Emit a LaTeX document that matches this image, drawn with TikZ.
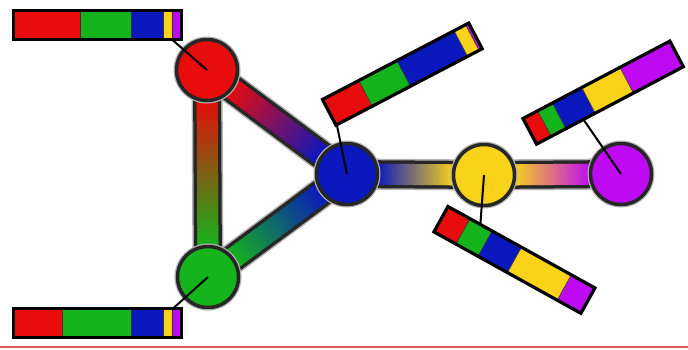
\documentclass[tikz,border=0pt]{standalone}
\usepackage{tikz}
\usetikzlibrary{calc}
\definecolor{nodered}{HTML}{E80C0C}
\definecolor{nodegreen}{HTML}{14B41C}
\definecolor{nodeblue}{HTML}{0A18BE}
\definecolor{nodeyellow}{HTML}{F8D31A}
\definecolor{nodepurple}{HTML}{BE0AF2}
\definecolor{floorred}{HTML}{E05A5A}

% gradient edge from node #1 (colour #3) to node #2 (colour #4)
\newcommand{\gradbar}[4]{%
  \draw[barframe] (#1) -- (#2);
  \path ($(#1)!30pt!(#2)$) coordinate (ga) ($(#2)!30pt!(#1)$) coordinate (gb);
  \foreach \i in {0,...,39}{
    \pgfmathsetmacro{\mix}{100-(\i+0.5)*2.5}
    \pgfmathsetmacro{\tend}{min(1,(\i+1.6)/40)}
    \draw[barfill, #3!\mix!#4] ($(ga)!\i/40!(gb)$) -- ($(ga)!\tend!(gb)$);
  }}

% legend bar: #1 origin, #2 angle, #3 length, #4 segments, #5 name, #6 leader point
\newcommand{\legendbar}[6]{%
  \begin{scope}[shift={#1}, rotate=#2]
    \foreach \c/\a/\b in {#4} \fill[\c] (\a,0) rectangle (\b,29);
    \foreach \c/\a/\b in {#4} \draw[segline] (\b,0) -- (\b,29);
    \draw[legframe] (0,0) rectangle (#3,29);
    \coordinate (#5) at #6;
  \end{scope}}

\begin{document}
\begin{tikzpicture}[
    x=1pt, y=-1pt,
    vertex/.style={circle, minimum size=61pt, inner sep=0pt, draw=black!85,
                   line width=3.5pt, preaction={draw=black!30, line width=6pt}},
    barframe/.style={line width=28pt, black!85, preaction={draw=black!30, line width=31pt}},
    barfill/.style={line width=21pt},
    legframe/.style={draw=black, line width=3.2pt},
    segline/.style={draw=black!80, line width=0.6pt},
    leader/.style={draw=black, line width=2pt},
    floorline/.style={draw=floorred, line width=1.6pt}
]
\useasboundingbox (0,0) rectangle (688,349);

% --- vertices (placed first, drawn over the edges below) ---
\path (207,70)  coordinate (pr) (208,277) coordinate (pg) (347,174) coordinate (pb)
      (484,175) coordinate (py) (621,174) coordinate (pp);

% --- edges ---
\gradbar{pr}{pg}{nodered}{nodegreen}
\gradbar{pr}{pb}{nodered}{nodeblue}
\gradbar{pg}{pb}{nodegreen}{nodeblue}
\gradbar{pb}{py}{nodeblue}{nodeyellow}
\gradbar{py}{pp}{nodeyellow}{nodepurple}

% --- vertices ---
\node[vertex, fill=nodered]    (vred)    at (pr) {};
\node[vertex, fill=nodegreen]  (vgreen)  at (pg) {};
\node[vertex, fill=nodeblue]   (vblue)   at (pb) {};
\node[vertex, fill=nodeyellow] (vyellow) at (py) {};
\node[vertex, fill=nodepurple] (vpurple) at (pp) {};

% --- legend bars ---
\legendbar{(13.5,10.5)}{0}{168}{nodered/0/66.5, nodegreen/66.5/117.5, nodeblue/117.5/149.5,
  nodeyellow/149.5/158.5, nodepurple/158.5/168}{legred}{(158.5,29)}
\legendbar{(13.5,308.5)}{0}{168}{nodered/0/48.5, nodegreen/48.5/117.5, nodeblue/117.5/149.5,
  nodeyellow/149.5/158.5, nodepurple/158.5/168}{leggreen}{(159.5,0)}
\legendbar{(322.5,99.5)}{27.6}{165}{nodered/0/41, nodegreen/41/84, nodeblue/84/148.5,
  nodeyellow/148.5/161.5, nodepurple/161.5/165}{legblue}{(1,29)}
\legendbar{(523,118.5)}{27.8}{166}{nodered/0/16.6, nodegreen/16.6/33.2, nodeblue/33.2/66.4,
  nodeyellow/66.4/109.6, nodepurple/109.6/166}{legpurple}{(53,29)}
\legendbar{(448,206.5)}{-29}{168}{nodered/0/25.2, nodegreen/25.2/50.4, nodeblue/50.4/84,
  nodeyellow/84/141, nodepurple/141/168}{legyellow}{(37,0)}

% --- leaders ---
\draw[leader] (legred)    -- (vred.center);
\draw[leader] (leggreen)  -- (vgreen.center);
\draw[leader] (legblue)   -- (vblue.center);
\draw[leader] (legpurple) -- (vpurple.center);
\draw[leader] (legyellow) -- (vyellow.center);

% --- floor line ---
\draw[floorline] (0,347) -- (688,347);

\end{tikzpicture}
\end{document}
